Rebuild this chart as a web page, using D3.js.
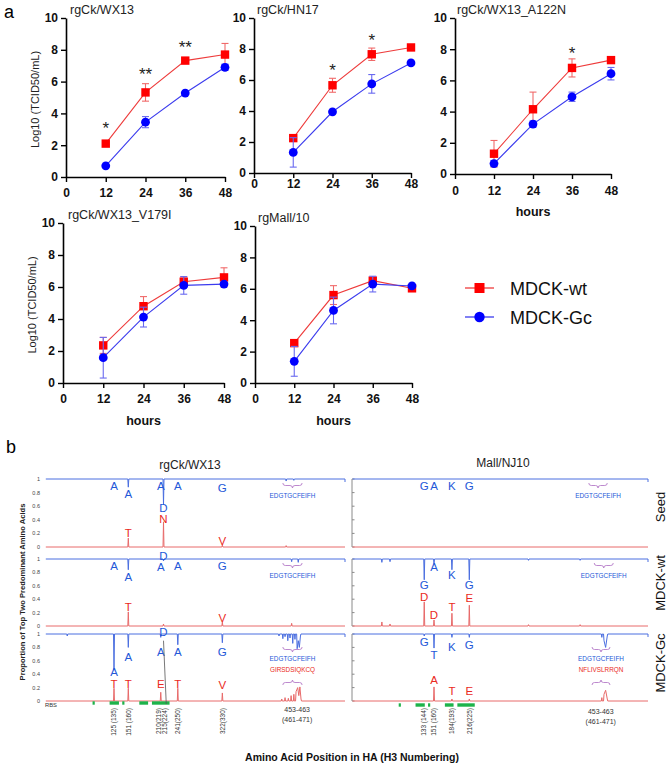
<!DOCTYPE html>
<html><head><meta charset="utf-8">
<script src="https://cdn.jsdelivr.net/npm/d3@7"></script>
<style>
body{margin:0;background:#fff}
svg{display:block}
text{font-family:"Liberation Sans",Arial,Helvetica,sans-serif}
</style>
</head><body>
<svg id="c" width="672" height="767"></svg>
<script>
// ---------------- DATA: part a (growth curves) ----------------
const hours = [12, 24, 36, 48];
const xTicks = [0, 12, 24, 36, 48];
const yTicks = [0, 2, 4, 6, 8, 10];
const panelTitles = ["rgCk/WX13", "rgCk/HN17", "rgCk/WX13_A122N", "rgCk/WX13_V179I", "rgMall/10"];
const seriesNames = ["MDCK-wt", "MDCK-Gc"];
const wtMean = [[2.1, 5.32, 7.32, 7.7], [2.25, 5.66, 7.66, 8.1], [1.3, 4.15, 6.8, 7.3], [2.35, 4.8, 6.33, 6.6], [2.54, 5.6, 6.52, 6.03]];
const wtErr  = [[0.08, 0.55, 0.1, 0.7], [0.15, 0.45, 0.4, 0.08], [0.85, 1.1, 0.58, 0.08], [0.5, 0.6, 0.3, 0.6], [0.15, 0.6, 0.2, 0.08]];
const gcMean = [[0.7, 3.45, 5.28, 6.9], [1.33, 3.95, 5.75, 7.1], [0.67, 3.2, 4.95, 6.43], [1.58, 4.12, 6.1, 6.18], [1.38, 4.62, 6.3, 6.18]];
const gcErr  = [[0.05, 0.35, 0.05, 0.2], [0.95, 0.05, 0.6, 0.05], [0.2, 0.2, 0.3, 0.4], [1.27, 0.62, 0.55, 0.1], [0.95, 0.85, 0.5, 0.05]];
const starHours  = [[12, 24, 36], [24, 36], [36], [], []];
const starLevels = [[3.2, 6.6, 8.3], [6.8, 8.7], [7.9], [], []];
const starMarks  = [["*", "**", "**"], ["*", "*"], ["*"], [], []];

// ---------------- DATA: part b (amino acid proportions) ----------------
const strainTitles = ["rgCk/WX13", "Mall/NJ10"];
const rowNames = ["Seed", "MDCK-wt", "MDCK-Gc"];
const propTicks = [0, 0.2, 0.4, 0.6, 0.8, 1];
const aaDomain = [0, 545];
// dips of the predominant (blue) amino acid: [position, proportion]
const wxBlue = [
  [[151, 0.88], [215, 0.62], [438, 0.97], [452, 0.98]],
  [[151, 0.84], [215, 0.97], [448, 0.96], [460, 0.95]],
  [[40, 0.97], [125, 0.46], [151, 0.8], [210, 0.95], [241, 0.84], [322, 0.87], [425, 0.97],
   [432, 0.93], [436, 0.96], [441, 0.9], [445, 0.94], [450, 0.86], [454, 0.92], [458, 0.78], [460, 0.9], [462, 0.8], [464, 0.97]]
];
// second most frequent (red) amino acid
const wxRed = [
  [[151, 0.13], [215, 0.37], [322, 0.03], [438, 0.02]],
  [[151, 0.21], [215, 0.03], [322, 0.06], [448, 0.04]],
  [[125, 0.19], [151, 0.19], [210, 0.13], [241, 0.19], [322, 0.12], [430, 0.03], [436, 0.05],
   [442, 0.04], [447, 0.08], [452, 0.1], [456, 0.14], [459, 0.2], [461, 0.08], [463, 0.21], [465, 0.03]]
];
const njBlue = [
  [],
  [[55, 0.95], [70, 0.96], [133, 0.69], [151, 0.93], [184, 0.84], [216, 0.69], [325, 0.98], [420, 0.98]],
  [[133, 0.97], [151, 0.79], [184, 0.95], [216, 0.95], [460, 0.95], [464, 0.9], [467, 0.8], [470, 0.97]]
];
const njRed = [
  [],
  [[55, 0.06], [70, 0.03], [133, 0.36], [151, 0.09], [184, 0.19], [216, 0.31], [325, 0.02], [420, 0.02]],
  [[151, 0.21], [184, 0.03], [216, 0.03], [460, 0.05], [464, 0.1], [467, 0.16], [470, 0.03]]
];
// letters: [amino acid, position, proportion level, series]
const wxLetters = [
  [["A", 125, 0.90, "b"], ["A", 151, 0.78, "b"], ["A", 210, 0.90, "b"], ["A", 241, 0.90, "b"], ["G", 322, 0.87, "b"],
   ["D", 215, 0.58, "b"], ["N", 215, 0.41, "r"], ["T", 151, 0.21, "r"], ["V", 322, 0.09, "r"]],
  [["D", 215, 1.04, "b"], ["A", 125, 0.90, "b"], ["A", 151, 0.73, "b"], ["A", 210, 0.88, "b"], ["A", 241, 0.90, "b"],
   ["G", 322, 0.90, "b"], ["T", 151, 0.28, "r"], ["V", 322, 0.12, "r"]],
  [["D", 215, 1.03, "b"], ["A", 125, 0.44, "b"], ["A", 151, 0.66, "b"], ["A", 210, 0.73, "b"], ["A", 241, 0.73, "b"],
   ["G", 322, 0.73, "b"], ["T", 125, 0.26, "r"], ["T", 151, 0.26, "r"], ["E", 210, 0.26, "r"], ["T", 241, 0.25, "r"], ["V", 322, 0.24, "r"]]
];
const njLetters = [
  [["G", 133, 0.90, "b"], ["A", 151, 0.90, "b"], ["K", 184, 0.90, "b"], ["G", 216, 0.90, "b"]],
  [["G", 133, 0.62, "b"], ["A", 151, 0.88, "b"], ["K", 184, 0.76, "b"], ["G", 216, 0.62, "b"],
   ["D", 133, 0.44, "r"], ["D", 151, 0.16, "r"], ["T", 184, 0.28, "r"], ["E", 216, 0.42, "r"]],
  [["G", 133, 0.88, "b"], ["T", 151, 0.69, "b"], ["K", 184, 0.81, "b"], ["G", 216, 0.84, "b"],
   ["A", 151, 0.31, "r"], ["T", 184, 0.15, "r"], ["E", 216, 0.15, "r"]]
];
const wxPosLabels = [[125, "125 (135)"], [151, "151 (160)"], [210, "210(219)"], [215, "215(224)"], [241, "241(250)"], [322, "322(330)"]];
const njPosLabels = [[133, "133 (144)"], [151, "151 (160)"], [184, "184(193)"], [216, "216(225)"]];
const regionPos = 458;
const regionLabels = ["453-463", "(461-471)"];
const rbsSites = [[86, 90], [117, 134], [140, 144], [171, 187], [194, 226]];
const peptideBlue = "EDGTGCFEIFH";
const peptideRed = ["GIRSDSIQKCQ", "NFLIVSLRRQN"];
const wxBraceRange = [432, 467];
const njBraceRanges = [[436, 470], [446, 481], [442, 475]];

// ---------------- DRAWING ----------------
const svg = d3.select("#c");
const RED = "#ff0000", BLUE = "#0000ff";

// part a layout
const layoutA = [
  {x0: 66, x1: 225, yb: 177, yt: 18, tx: 70, ty: 14, ylab: true, pad: 6},
  {x0: 254, x1: 411, yb: 173, yt: 18, tx: 257, ty: 14, pad: 1.5},
  {x0: 455, x1: 611, yb: 174, yt: 18, tx: 457, ty: 14, hours: true, pad: 7},
  {x0: 63, x1: 224, yb: 383, yt: 223, tx: 68, ty: 219, ylab: true, hours: true, pad: 6},
  {x0: 255, x1: 412, yb: 383, yt: 226, tx: 258, ty: 222, hours: true, pad: 6}
];

svg.append("text").attr("x", 4).attr("y", 18).attr("font-size", 18).text("a");
svg.append("text").attr("x", 6).attr("y", 453).attr("font-size", 18).text("b");

layoutA.forEach((L, i) => {
  const g = svg.append("g");
  const x = d3.scaleLinear().domain([0, 48]).range([L.x0, L.x1]);
  const y = d3.scaleLinear().domain([0, 10]).range([L.yb, L.yt]);
  const ya = g.append("g").attr("transform", `translate(${L.x0},0)`)
    .call(d3.axisLeft(y).tickValues(yTicks).tickSize(5).tickPadding(3).tickSizeOuter(0));
  const xa = g.append("g").attr("transform", `translate(0,${L.yb})`)
    .call(d3.axisBottom(x).tickValues(xTicks).tickSize(5).tickPadding(L.pad).tickSizeOuter(0));
  [ya, xa].forEach(a => {
    a.select(".domain").attr("stroke", "#000").attr("stroke-width", 1.6);
    a.selectAll(".tick line").attr("stroke", "#000").attr("stroke-width", 1.4);
    a.selectAll(".tick text").attr("font-size", 12).attr("font-weight", "bold").attr("fill", "#111")
      .attr("font-family", "Liberation Sans, Arial, sans-serif");
  });
  g.append("text").attr("x", L.tx).attr("y", L.ty).attr("font-size", 12.5).attr("fill", "#222").text(panelTitles[i]);
  if (L.ylab) {
    g.append("text").attr("transform", `translate(${L.x0 - 27},${(L.yb + L.yt) / 2 + 2}) rotate(-90)`)
      .attr("text-anchor", "middle").attr("font-size", 11).attr("fill", "#222").text("Log10 (TCID50/mL)");
  }
  if (L.hours) {
    g.append("text").attr("x", x(24)).attr("y", L.yb + 42).attr("text-anchor", "middle")
      .attr("font-size", 12.5).attr("font-weight", "bold").attr("fill", "#111").text("hours");
  }
  const series = [
    {m: wtMean[i], e: wtErr[i], c: RED, lc: "#ee3b3b", ec: "#f06a6a", shape: "sq"},
    {m: gcMean[i], e: gcErr[i], c: BLUE, lc: "#3b3bee", ec: "#6a6af0", shape: "ci"}
  ];
  series.forEach(s => {
    const pts = hours.map((h, k) => ({h, v: s.m[k], e: s.e[k]}));
    g.append("path").datum(pts).attr("fill", "none").attr("stroke", s.lc).attr("stroke-width", 1.1)
      .attr("d", d3.line().x(d => x(d.h)).y(d => y(d.v)));
    const eb = g.append("g").attr("stroke", s.ec).attr("stroke-width", 1.1);
    pts.forEach(d => {
      eb.append("line").attr("x1", x(d.h)).attr("x2", x(d.h)).attr("y1", y(d.v - d.e)).attr("y2", y(d.v + d.e));
      eb.append("line").attr("x1", x(d.h) - 3.5).attr("x2", x(d.h) + 3.5).attr("y1", y(d.v + d.e)).attr("y2", y(d.v + d.e));
      eb.append("line").attr("x1", x(d.h) - 3.5).attr("x2", x(d.h) + 3.5).attr("y1", y(d.v - d.e)).attr("y2", y(d.v - d.e));
    });
    pts.forEach(d => {
      if (s.shape === "sq") g.append("rect").attr("x", x(d.h) - 4.2).attr("y", y(d.v) - 4.2).attr("width", 8.4).attr("height", 8.4).attr("fill", s.c);
      else g.append("circle").attr("cx", x(d.h)).attr("cy", y(d.v)).attr("r", 4.4).attr("fill", s.c);
    });
  });
  starHours[i].forEach((h, k) => {
    g.append("text").attr("x", x(h)).attr("y", y(starLevels[i][k]) + 8).attr("text-anchor", "middle")
      .attr("font-size", 17).attr("fill", "#222").text(starMarks[i][k]);
  });
});

// legend
const leg = svg.append("g");
[[RED, "#ee3b3b", "sq", 288], [BLUE, "#3b3bee", "ci", 317]].forEach((d, k) => {
  leg.append("line").attr("x1", 465).attr("x2", 494).attr("y1", d[3]).attr("y2", d[3]).attr("stroke", d[1]).attr("stroke-width", 1.3);
  if (d[2] === "sq") leg.append("rect").attr("x", 474.5).attr("y", d[3] - 5).attr("width", 10).attr("height", 10).attr("fill", d[0]);
  else leg.append("circle").attr("cx", 479.5).attr("cy", d[3]).attr("r", 5.2).attr("fill", d[0]);
  leg.append("text").attr("x", 510).attr("y", d[3] + 6.5).attr("font-size", 18).attr("fill", "#111").text(seriesNames[k]);
});

// ---------------- part b ----------------
const rowTop = [479, 559, 634], rowBot = [547, 626, 701];
const BL_LINE = "#4a6ee0", RD_LINE = "#e86a6a", BL_TXT = "#2458d8", RD_TXT = "#ea2a22", PURPLE = "#b57cc8";
const panelsB = [
  {x: d3.scaleLinear().domain(aaDomain).range([45.25, 345]), blue: wxBlue, red: wxRed, letters: wxLetters,
   pos: wxPosLabels, nudge: [0, 0, -1.6, 1.6, 0, 0], title: strainTitles[0], tx: 190, ty: 469, rbsY: 703, left: true},
  {x: d3.scaleLinear().domain(aaDomain).range([352, 648]), blue: njBlue, red: njRed, letters: njLetters,
   pos: njPosLabels, nudge: [0, 0, 0, 0], title: strainTitles[1], tx: 503, ty: 467, rbsY: 705, left: false}
];

function trackPoints(base, dips) {
  const out = [[aaDomain[0] + 1, base]];
  const s = dips.slice().sort((a, b) => a[0] - b[0]);
  s.forEach((d, k) => {
    const prev = s[k - 1], next = s[k + 1];
    if (!prev || d[0] - prev[0] > 3) out.push([d[0] - 0.9, base]);
    out.push(d);
    if (!next || next[0] - d[0] > 3) out.push([d[0] + 0.9, base]);
  });
  out.push([aaDomain[1], base]);
  return out;
}
function bracePath(x0, x1, y, dir, h) {
  const cx = (x0 + x1) / 2, m = y + dir * h / 2, t = y + dir * h, r = 2.5;
  return `M${x0},${y} Q${x0},${m} ${x0 + r},${m} L${cx - r},${m} Q${cx},${m} ${cx},${t} Q${cx},${m} ${cx + r},${m} L${x1 - r},${m} Q${x1},${m} ${x1},${y}`;
}

panelsB.forEach((P, pi) => {
  const g = svg.append("g");
  g.append("text").attr("x", P.tx).attr("y", P.ty).attr("text-anchor", "middle").attr("font-size", 12).attr("fill", "#222").text(P.title);
  rowNames.forEach((rn, r) => {
    const y = d3.scaleLinear().domain([0, 1]).range([rowBot[r], rowTop[r]]);
    const line = d3.line().x(d => P.x(d[0])).y(d => y(d[1]));
    if (P.left) {
      propTicks.forEach(t => g.append("text").attr("x", 40).attr("y", y(t) + 2).attr("text-anchor", "end")
        .attr("font-size", 5.5).attr("fill", "#444").text(t));
    } else {
      g.append("line").attr("x1", P.x(0)).attr("x2", P.x(0)).attr("y1", y(0)).attr("y2", y(1)).attr("stroke", "#8a8a8a").attr("stroke-width", 1);
      propTicks.forEach(t => g.append("line").attr("x1", P.x(0)).attr("x2", P.x(0) + 2.5).attr("y1", y(t)).attr("y2", y(t)).attr("stroke", "#8a8a8a"));
    }
    g.append("path").attr("fill", "none").attr("stroke", RD_LINE).attr("stroke-width", 1).attr("d", line(trackPoints(0, P.red[r])));
    g.append("path").attr("fill", "none").attr("stroke", BL_LINE).attr("stroke-width", 1).attr("d", line(trackPoints(1, P.blue[r])));
    g.append("line").attr("x1", P.x(aaDomain[1])).attr("x2", P.x(aaDomain[1])).attr("y1", y(1)).attr("y2", y(1) + 3).attr("stroke", BL_LINE);
    P.letters[r].forEach(L => {
      g.append("text").attr("x", P.x(L[1])).attr("y", y(L[2])).attr("dy", "0.36em").attr("text-anchor", "middle")
        .attr("font-size", 11.5).attr("fill", L[3] === "b" ? BL_TXT : RD_TXT).text(L[0]);
    });
    const br = P.left ? wxBraceRange : njBraceRanges[r];
    const bx0 = P.x(br[0]), bx1 = P.x(br[1]), bcx = (bx0 + bx1) / 2;
    const bTop = rowTop[r] + (r === 2 ? 13 : 4);
    g.append("path").attr("fill", "none").attr("stroke", PURPLE).attr("stroke-width", 0.9).attr("d", bracePath(bx0, bx1, bTop, 1, 5));
    g.append("text").attr("x", bcx).attr("y", bTop + (r === 2 ? 13.5 : 15)).attr("text-anchor", "middle")
      .attr("font-size", 6.4).attr("fill", BL_TXT).text(peptideBlue);
    if (r === 2) {
      g.append("text").attr("x", bcx).attr("y", bTop + 24.5).attr("text-anchor", "middle")
        .attr("font-size", 6.4).attr("fill", RD_TXT).text(peptideRed[pi]);
      g.append("path").attr("fill", "none").attr("stroke", PURPLE).attr("stroke-width", 0.9).attr("d", bracePath(bx0, bx1, bTop + 38, -1, 5));
    }
  });
  rbsSites.forEach(s => g.append("rect").attr("x", P.x(s[0])).attr("y", P.rbsY - 1.7).attr("width", Math.max(2, P.x(s[1]) - P.x(s[0])))
    .attr("height", 3.4).attr("fill", "#1db34a"));
  if (P.left) g.append("text").attr("x", 45).attr("y", 707).attr("font-size", 5.8).attr("fill", "#333").text("RBS");
  P.pos.forEach((p, k) => {
    g.append("text").attr("transform", `translate(${P.x(p[0]) + 2.2 + P.nudge[k]},708) rotate(-90)`).attr("text-anchor", "end")
      .attr("font-size", 6.5).attr("fill", "#333").text(p[1]);
  });
  regionLabels.forEach((t, k) => g.append("text").attr("x", P.x(regionPos)).attr("y", 712 + k * 10 + (P.left ? 0 : 2))
    .attr("text-anchor", "middle").attr("font-size", 7).attr("fill", "#333").text(t));
});
{
  const P = panelsB[0];
  const y = d3.scaleLinear().domain([0, 1]).range([rowBot[2], rowTop[2]]);
  svg.append("line").attr("x1", P.x(215)).attr("y1", y(0.9)).attr("x2", P.x(220)).attr("y2", 704).attr("stroke", "#555").attr("stroke-width", 0.8);
}
const rowLabelY = [507, 583, 663];
rowNames.forEach((n, r) => svg.append("text").attr("transform", `translate(665,${rowLabelY[r]}) rotate(-90)`)
  .attr("text-anchor", "middle").attr("font-size", 13).attr("fill", "#111").text(n));
svg.append("text").attr("transform", "translate(25,592) rotate(-90)").attr("text-anchor", "middle")
  .attr("font-size", 7.6).attr("font-weight", "bold").attr("fill", "#222").text("Proportion of Top Two Predominant Amino Acids");
svg.append("text").attr("x", 352).attr("y", 761).attr("text-anchor", "middle").attr("font-size", 10.5)
  .attr("font-weight", "bold").attr("fill", "#111").text("Amino Acid Position in HA (H3 Numbering)");
</script>
</body></html>
